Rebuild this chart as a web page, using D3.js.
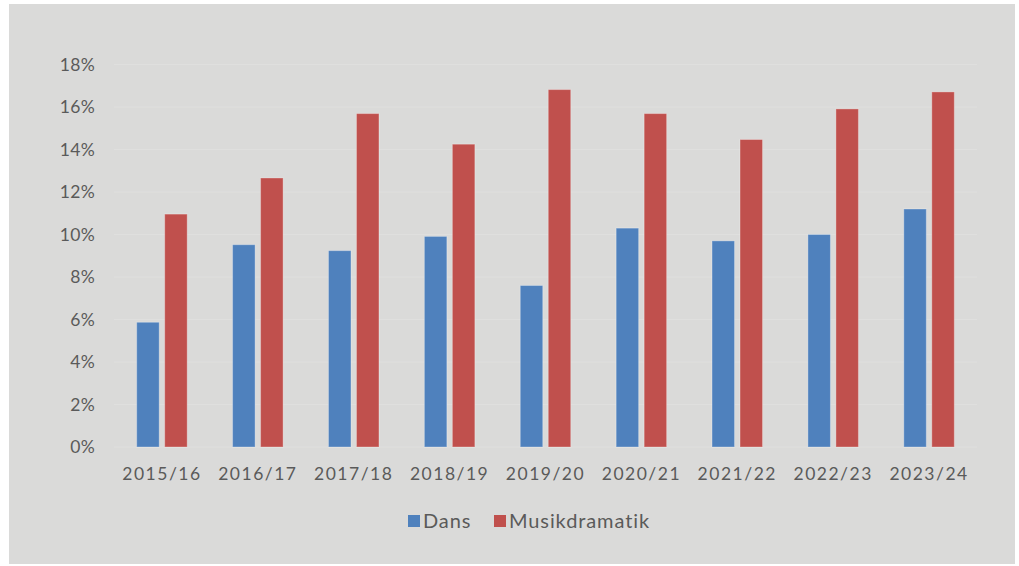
<!DOCTYPE html>
<html>
<head>
<meta charset="utf-8">
<script src="https://cdn.jsdelivr.net/npm/d3@7"></script>
<style>
  body { margin: 0; background: #fff; }
  svg text { font-family: Lato, "Open Sans", sans-serif; fill: #5a5a5a; }
</style>
</head>
<body>
<svg id="chart"></svg>
<script>
const seasons = ["2015/16", "2016/17", "2017/18", "2018/19", "2019/20", "2020/21", "2021/22", "2022/23", "2023/24"];
const dans = [5.87, 9.52, 9.24, 9.91, 7.6, 10.3, 9.7, 10.0, 11.2];
const musikdramatik = [10.96, 12.66, 15.69, 14.25, 16.82, 15.69, 14.47, 15.91, 16.71];
const yTicks = [0, 2, 4, 6, 8, 10, 12, 14, 16, 18];
const seriesNames = ["Dans", "Musikdramatik"];
const colors = ["#4f81bd", "#c0504d"];

const width = 1019, height = 566;
const margin = { top: 64.5, right: 42, bottom: 119, left: 114 };
const w = width - margin.left - margin.right;
const h = height - margin.top - margin.bottom;

const svg = d3.select('#chart')
    .attr('width', width)
    .attr('height', height);

// grey panel
svg.append('rect')
  .attr('x', 9).attr('y', 4)
  .attr('width', 1006).attr('height', 560)
  .attr('fill', '#dadad9');

const chart = svg.append('g')
  .attr('transform', `translate(${margin.left}, ${margin.top})`);

const x = d3.scaleBand()
  .domain(seasons)
  .range([0, w]);

const y = d3.scaleLinear()
  .domain([0, 18])
  .range([h, 0]);

// gridlines
chart.append('g')
  .selectAll('line')
  .data(yTicks)
  .join('line')
    .attr('x1', 0).attr('x2', w)
    .attr('y1', d => y(d)).attr('y2', d => y(d))
    .attr('stroke', '#dfdfde')
    .attr('stroke-width', 1);

// y axis labels
const yAxis = d3.axisLeft(y)
  .tickValues(yTicks)
  .tickSize(0)
  .tickPadding(19)
  .tickFormat(d => d + '%');

chart.append('g')
  .attr('class', 'y axis')
  .call(yAxis)
  .call(g => g.select('.domain').remove())
  .selectAll('text')
    .style('font-size', '17.5px')
    .style('letter-spacing', '0.3px')
    .attr('fill', '#5a5a5a');

// x axis labels
const xAxis = d3.axisBottom(x)
  .tickSize(0)
  .tickPadding(21);

chart.append('g')
  .attr('class', 'x axis')
  .attr('transform', `translate(0, ${h})`)
  .call(xAxis)
  .call(g => g.select('.domain').remove())
  .selectAll('text')
    .style('font-size', '17.5px')
    .style('letter-spacing', '1.5px')
    .attr('fill', '#5a5a5a');

// bars
const barW = 22.5, innerGap = 5.5;
const offsets = [-barW - innerGap / 2, innerGap / 2];
const series = [dans, musikdramatik];

series.forEach((vals, s) => {
  chart.append('g')
    .selectAll('rect')
    .data(vals)
    .join('rect')
      .attr('x', (d, i) => x(seasons[i]) + x.bandwidth() / 2 + offsets[s])
      .attr('y', d => y(d))
      .attr('width', barW)
      .attr('height', d => h - y(d))
      .attr('fill', colors[s])
      .attr('stroke', 'rgba(255,255,255,0.3)')
      .attr('stroke-width', 1);
});

// legend
const legend = svg.append('g')
  .attr('transform', 'translate(408, 521)');

const legendX = [0, 86];
seriesNames.forEach((name, i) => {
  const g = legend.append('g').attr('transform', `translate(${legendX[i]}, 0)`);
  g.append('rect')
    .attr('x', 0).attr('y', -6)
    .attr('width', 12).attr('height', 12)
    .attr('fill', colors[i]);
  g.append('text')
    .attr('x', 15).attr('y', 0)
    .attr('dy', '0.35em')
    .style('font-size', '20px')
    .style('letter-spacing', '0.9px')
    .text(name);
});
</script>
</body>
</html>
